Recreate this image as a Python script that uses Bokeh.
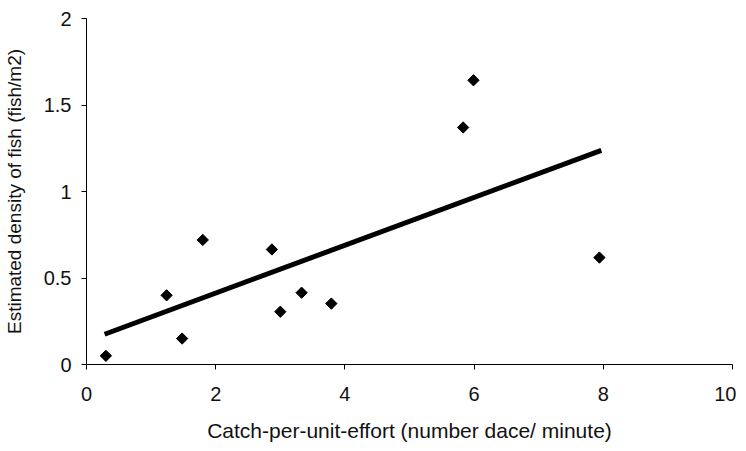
import math
from bokeh.plotting import figure
from bokeh.models import Range1d, FixedTicker
from bokeh.embed import file_html
from bokeh.resources import INLINE

# Data
cpue = [0.30, 1.24, 1.48, 1.80, 2.87, 3.00, 3.33, 3.79, 5.83, 5.99, 7.94]
density = [0.05, 0.40, 0.15, 0.72, 0.665, 0.305, 0.415, 0.352, 1.37, 1.643, 0.618]

# Fitted trend line end points
trend_x = [0.28, 7.97]
trend_y = [0.175, 1.238]

x_ticks = [0, 2, 4, 6, 8, 10]
y_ticks = [0, 0.5, 1, 1.5, 2]
y_tick_labels = {0: "0", 0.5: "0.5", 1: "1", 1.5: "1.5", 2: "2"}

p = figure(frame_width=646, frame_height=346, output_backend="svg", toolbar_location=None,
           x_range=Range1d(0, 10), y_range=Range1d(0, 2),
           min_border_left=86, min_border_right=4, min_border_top=18, min_border_bottom=70)

p.outline_line_color = None
p.grid.visible = False
p.background_fill_color = "white"
p.border_fill_color = "white"

p.line(trend_x, trend_y, line_width=5, line_color="black")
p.scatter(cpue, density, marker="square", size=8, angle=math.pi / 4,
          fill_color="black", line_color="black")

FONT = "Liberation Sans"
for ax in (p.xaxis[0], p.yaxis[0]):
    ax.axis_line_color = "black"
    ax.axis_line_width = 1
    ax.major_tick_line_color = "black"
    ax.major_tick_out = 5
    ax.major_tick_in = 0
    ax.minor_tick_line_color = None
    ax.major_label_text_font = FONT
    ax.major_label_text_font_size = "20px"
    ax.major_label_text_color = "#111111"
    ax.axis_label_text_font = FONT
    ax.axis_label_text_font_style = "normal"
    ax.axis_label_text_color = "#111111"

p.xaxis.ticker = FixedTicker(ticks=x_ticks)
p.yaxis.ticker = FixedTicker(ticks=y_ticks)
p.yaxis.major_label_overrides = y_tick_labels
p.xaxis.axis_label = "Catch-per-unit-effort (number dace/ minute)"
p.yaxis.axis_label = "Estimated density of fish (fish/m2)"
p.xaxis.axis_label_text_font_size = "21px"
p.yaxis.axis_label_text_font_size = "19px"
p.xaxis.major_label_standoff = 17
p.xaxis.axis_label_standoff = 15
p.yaxis.major_label_standoff = 10
p.yaxis.axis_label_standoff = 16

open("out.html", "w").write(file_html(p, INLINE))
